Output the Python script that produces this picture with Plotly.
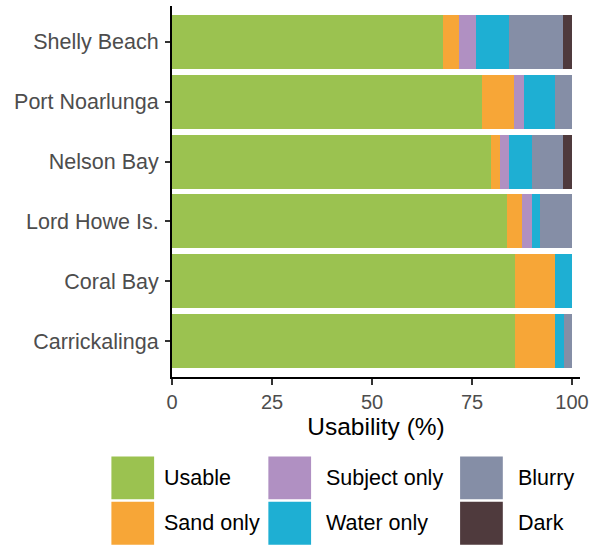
import plotly.graph_objects as go

# ---- data ----
sites = ["Shelly Beach", "Port Noarlunga", "Nelson Bay", "Lord Howe Is.", "Coral Bay", "Carrickalinga"]
categories = ["Usable", "Sand only", "Subject only", "Water only", "Blurry", "Dark"]
usable = [67.7, 77.4, 79.8, 83.7, 85.8, 85.8]
sand_only = [4.0, 8.2, 2.1, 3.9, 10.0, 10.0]
subject_only = [4.2, 2.3, 2.3, 2.3, 0.0, 0.0]
water_only = [8.3, 7.9, 5.9, 2.0, 4.2, 2.3]
blurry = [13.6, 4.2, 7.7, 8.1, 0.0, 1.9]
dark = [2.2, 0.0, 2.2, 0.0, 0.0, 0.0]
series = [usable, sand_only, subject_only, water_only, blurry, dark]
colors = ["#9BC250", "#F7A637", "#B090C2", "#1EAFD3", "#858EA6", "#4F3A3D"]
x_ticks = [0, 25, 50, 75, 100]

W, H = 595, 545
L, R, T, B = 172, 12.3, 6, 167.5
FONT = "Liberation Sans, Arial, sans-serif"

fig = go.Figure()
for name, vals, col in zip(categories, series, colors):
    fig.add_trace(go.Bar(
        y=sites, x=vals, name=name, orientation="h",
        marker=dict(color=col, line=dict(width=0)),
        showlegend=False,
    ))

# manual legend (column-major 3x2 grid with large keys)
pw = W - L - R
ph = H - T - B
def px2x(px):
    return (px - L) / pw
def py2y(py):
    return (H - B - py) / ph

key_x = [111, 111, 269, 269, 462, 462]
key_y = [457, 502.5, 457, 502.5, 457, 502.5]
lab_x = [162, 162, 325, 325, 518, 518]
shapes = []
annotations = []
for i, (name, col) in enumerate(zip(categories, colors)):
    x0, y0 = key_x[i], key_y[i]
    shapes.append(dict(type="rect", xref="paper", yref="paper",
                       x0=px2x(x0), x1=px2x(x0 + 43), y0=py2y(y0 + 43), y1=py2y(y0),
                       fillcolor=col, line=dict(width=0), layer="above"))
    annotations.append(dict(xref="paper", yref="paper", x=px2x(lab_x[i]), y=py2y(y0 + 21.5),
                            text=name, showarrow=False, xanchor="left", yanchor="middle",
                            font=dict(family=FONT, size=21.5, color="#000000")))

fig.update_layout(
    width=W, height=H,
    margin=dict(l=L, r=R, t=T, b=B, pad=0),
    barmode="stack", bargap=0.1,
    plot_bgcolor="white", paper_bgcolor="white",
    font=dict(family=FONT, size=20, color="#4D4D4D"),
    shapes=shapes, annotations=annotations,
)
fig.update_xaxes(
    range=[0, 102], tickvals=x_ticks, ticktext=[str(v) for v in x_ticks],
    showgrid=False, zeroline=False,
    showline=True, linecolor="#000000", linewidth=2,
    ticks="outside", ticklen=6, tickwidth=2, tickcolor="#333333",
    tickfont=dict(family=FONT, size=20, color="#4D4D4D"),
    title=dict(text="Usability (%)", font=dict(family=FONT, size=24.5, color="#000000"), standoff=5),
)
fig.update_yaxes(
    categoryorder="array", categoryarray=sites,
    range=[len(sites) - 0.4, -0.6],
    showgrid=False, zeroline=False,
    showline=True, linecolor="#000000", linewidth=2,
    ticks="outside", ticklen=5, tickwidth=2, tickcolor="#333333",
    tickfont=dict(family=FONT, size=21.5, color="#4D4D4D"),
    ticklabelstandoff=2,
)

fig.write_html("out.html", config={"displayModeBar": False},
               post_script="document.body.style.margin='0';")
